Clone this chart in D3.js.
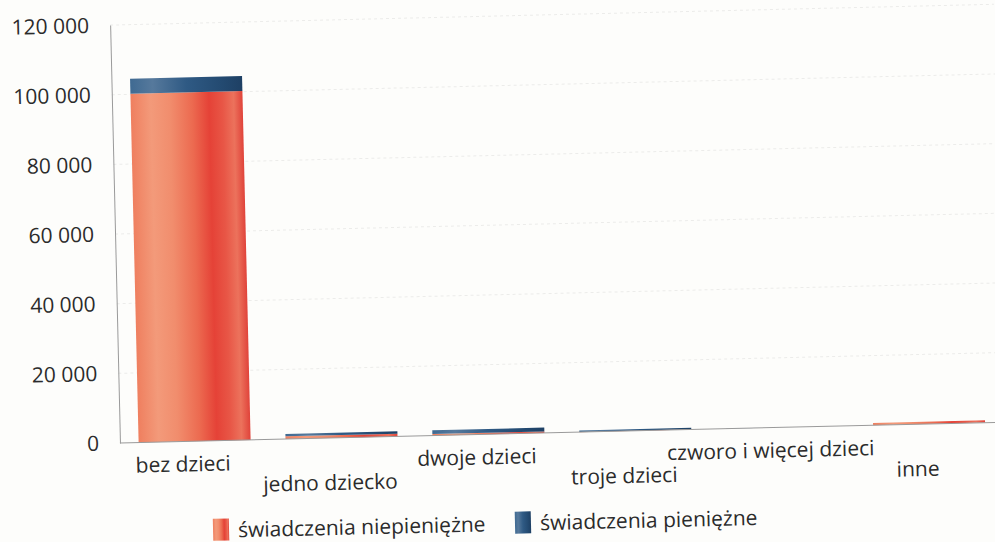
<!DOCTYPE html>
<html>
<head>
<meta charset="utf-8">
<script src="https://cdn.jsdelivr.net/npm/d3@7"></script>
<style>
    body { margin: 0; background: #fdfdfb; }
    svg { display: block; font-family: "Open Sans", "Noto Sans", sans-serif; }
    .tick-label, .cat-label, .legend-label { fill: #2b2b2b; font-size: 21px; font-family: "Open Sans", "Noto Sans", sans-serif; }
</style>
</head>
<body>
<div id="chart"></div>
<script>
// values
const categories = ["bez dzieci", "jedno dziecko", "dwoje dzieci", "troje dzieci", "czworo i więcej dzieci", "inne"];
const niepieniezne = [100200, 800, 450, 60, 20, 650];
const pieniezne = [4300, 700, 1100, 450, 30, 30];
const yTicks = [0, 20000, 40000, 60000, 80000, 100000, 120000];
const seriesNames = ["świadczenia niepieniężne", "świadczenia pieniężne"];

const width = 995;
const height = 542;

const data = categories.map((c, i) => ({ category: c, niepieniezne: niepieniezne[i], pieniezne: pieniezne[i] }));
const stacked = d3.stack().keys(["niepieniezne", "pieniezne"])(data);

const x = d3.scaleBand()
    .domain(categories)
    .range([116, 1000])
    .paddingInner(0.2376)
    .paddingOuter(0.127);

const y = d3.scaleLinear()
    .domain([0, 120000])
    .range([434, 16]);

const svg = d3.select("#chart")
    .append("svg")
    .attr("width", width)
    .attr("height", height);

const defs = svg.append("defs");

const orangeGrad = defs.append("linearGradient").attr("id", "grad-orange");
[
    [0, "#ef7f5f"], [0.18, "#f39a7a"], [0.35, "#f18d6d"], [0.55, "#ec6a50"],
    [0.7, "#e54237"], [0.82, "#e85646"], [0.92, "#ec725c"], [1, "#e0433a"]
].forEach(([o, c]) => orangeGrad.append("stop").attr("offset", o).attr("stop-color", c));

const blueGrad = defs.append("linearGradient").attr("id", "grad-blue");
[
    [0, "#3f6a92"], [0.2, "#56799c"], [0.5, "#2f5a84"], [0.8, "#244b72"], [1, "#1e4064"]
].forEach(([o, c]) => blueGrad.append("stop").attr("offset", o).attr("stop-color", c));

const fills = { niepieniezne: "url(#grad-orange)", pieniezne: "url(#grad-blue)" };

// the scan is slightly tilted
const chart = svg.append("g").attr("transform", "rotate(-1.35, 500, 270)");

// faint gridlines
chart.append("g")
    .selectAll("line")
    .data(yTicks.filter(t => t > 0))
    .join("line")
    .attr("x1", 116)
    .attr("x2", 1000)
    .attr("y1", d => y(d))
    .attr("y2", d => y(d))
    .attr("stroke", "#ececea")
    .attr("stroke-width", 1)
    .attr("stroke-dasharray", "3,3");

const yAxis = d3.axisLeft(y)
    .tickValues(yTicks)
    .tickSize(0)
    .tickPadding(21)
    .tickFormat(d => d3.format(",")(d).replace(/,/g, " "));

chart.append("g")
    .attr("transform", "translate(116,0)")
    .call(yAxis)
    .attr("font-family", null)
    .attr("font-size", null)
    .call(g => g.select(".domain").attr("stroke", "#9a9a9a").attr("stroke-width", 1))
    .call(g => g.selectAll("text").attr("class", "tick-label").attr("fill", null));

chart.append("g")
    .selectAll("g")
    .data(stacked)
    .join("g")
    .attr("fill", s => fills[s.key])
    .selectAll("rect")
    .data(s => s)
    .join("rect")
    .attr("x", d => x(d.data.category))
    .attr("width", x.bandwidth())
    .attr("y", d => y(d[1]))
    .attr("height", d => Math.max(0, y(d[0]) - y(d[1])));

// baseline
chart.append("line")
    .attr("x1", 116)
    .attr("x2", 1000)
    .attr("y1", y(0))
    .attr("y2", y(0))
    .attr("stroke", "#9a9a9a")
    .attr("stroke-width", 1);

// staggered category labels
chart.append("g")
    .selectAll("text")
    .data(categories)
    .join("text")
    .attr("class", "cat-label")
    .attr("x", d => x(d) + x.bandwidth() / 2 - 12)
    .attr("y", (d, i) => (i % 2 === 0 ? 464 : 486))
    .attr("text-anchor", "middle")
    .text(d => d);

// legend
const legendX = [207, 509];
const legend = chart.append("g")
    .selectAll("g")
    .data(seriesNames)
    .join("g")
    .attr("transform", (d, i) => `translate(${legendX[i]},512)`);

legend.append("rect")
    .attr("width", 16)
    .attr("height", 22)
    .attr("fill", (d, i) => (i === 0 ? fills.niepieniezne : fills.pieniezne));

legend.append("text")
    .attr("class", "legend-label")
    .attr("x", 25)
    .attr("y", 19)
    .text(d => d);
</script>
</body>
</html>
